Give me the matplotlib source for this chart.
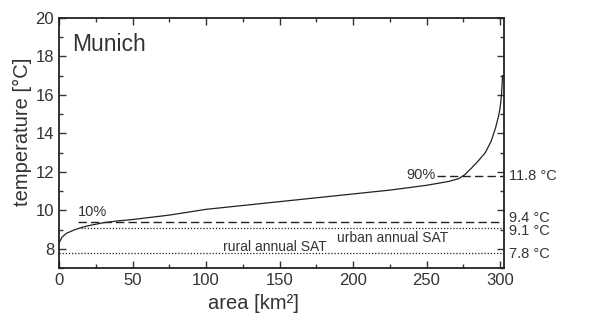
import numpy as np
import matplotlib.pyplot as plt
from matplotlib.ticker import MultipleLocator

plt.rcParams['font.family'] = ['Liberation Sans', 'DejaVu Sans']

# area-sorted temperature curve
area = [0, 2, 5, 10, 15, 20, 30, 40, 50, 75, 100, 125, 150, 175, 200, 225,
        250, 265, 272, 276, 280, 285, 290, 294, 297, 299, 300, 301, 301.7]
temp = [8.3, 8.6, 8.8, 8.97, 9.1, 9.2, 9.35, 9.45, 9.52, 9.75, 10.05, 10.25,
        10.45, 10.65, 10.85, 11.05, 11.3, 11.5, 11.65, 11.85, 12.15, 12.55,
        13.0, 13.6, 14.3, 14.9, 15.3, 16.0, 17.0]

levels = [11.8, 9.4, 9.1, 7.8]
level_labels = ['11.8 °C', '9.4 °C', '9.1 °C', '7.8 °C']
level_start = [257, 13, 15, 0]
level_style = ['--', '--', ':', ':']
label_shift = [-0.04, 0.22, -0.2, -0.06]

c = '#333333'
fig = plt.figure(figsize=(5.9, 3.25), dpi=100)
ax = fig.add_axes([59/590, 57/325, 445/590, 250/325])

ax.plot(area, temp, color='#222222', lw=0.9)
for lv, x0, ls in zip(levels, level_start, level_style):
    ax.plot([x0, 302.7], [lv, lv], color='#222222', ls=ls,
            lw=1.0 if ls == '--' else 0.9,
            dashes=(6, 3) if ls == '--' else (1, 1.5))
for lv, lab, sh in zip(levels, level_labels, label_shift):
    ax.text(306, lv + sh, lab, fontsize=10.5, color=c,
            va='center', ha='left', clip_on=False)

ax.text(13, 9.9, '10%', fontsize=10.5, color=c, va='center')
ax.text(256, 11.85, '90%', fontsize=10.5, color=c, va='center', ha='right')
ax.text(147, 8.1, 'rural annual SAT', fontsize=10, color=c, ha='center', va='center')
ax.text(227, 8.55, 'urban annual SAT', fontsize=10, color=c, ha='center', va='center')
ax.text(9, 18.6, 'Munich', fontsize=16.5, color=c, va='center')

ax.set_xlim(0, 302.7)
ax.set_ylim(7, 20)
ax.xaxis.set_major_locator(MultipleLocator(50))
ax.yaxis.set_major_locator(MultipleLocator(2))
ax.xaxis.set_minor_locator(MultipleLocator(25))
ax.yaxis.set_minor_locator(MultipleLocator(1))
ax.tick_params(which='both', direction='in', top=True, right=True, colors=c,
               labelsize=12, width=1)
ax.tick_params(which='major', length=5)
ax.tick_params(which='minor', length=3)
for s in ax.spines.values():
    s.set_linewidth(1.3)
    s.set_color('#222222')

ax.set_xlabel('area [km²]', fontsize=14.5, color=c)
ax.set_ylabel('temperature [°C]', fontsize=14.5, color=c)
ax.xaxis.set_label_coords(0.436, -0.105)
ax.yaxis.set_label_coords(-0.06, 0.545)

fig.savefig('out.png', dpi=100)
